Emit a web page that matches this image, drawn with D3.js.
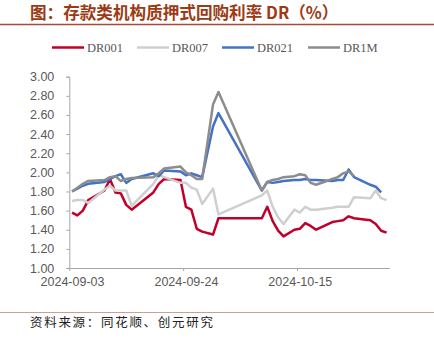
<!DOCTYPE html>
<html>
<head>
<meta charset="utf-8">
<script src="https://cdn.jsdelivr.net/npm/d3@7"></script>
<style>
  html, body { margin: 0; padding: 0; background: #ffffff; }
  svg { display: block; }
</style>
</head>
<body>
<svg id="chart" width="434" height="339"></svg>
<script>
// Trading days (interbank), including weekend make-up days
const dates = [
  "2024-09-03","2024-09-04","2024-09-05","2024-09-06","2024-09-09","2024-09-10","2024-09-11",
  "2024-09-12","2024-09-13","2024-09-14","2024-09-18","2024-09-19","2024-09-20","2024-09-23",
  "2024-09-24","2024-09-25","2024-09-26","2024-09-27","2024-09-29","2024-09-30",
  "2024-10-08","2024-10-09","2024-10-10","2024-10-11","2024-10-12","2024-10-14","2024-10-15",
  "2024-10-16","2024-10-17","2024-10-18","2024-10-21","2024-10-22","2024-10-23","2024-10-24",
  "2024-10-25","2024-10-28","2024-10-29","2024-10-30","2024-10-31"
];

const dr001 = [
  1.58,1.55,1.60,1.71,1.81,1.93,1.79,1.78,1.66,1.61,1.79,1.88,1.93,1.92,1.64,1.61,1.41,1.38,1.35,1.52,
  1.52,1.64,1.49,1.39,1.33,1.40,1.41,1.47,1.44,1.40,1.48,1.49,1.50,1.54,1.52,1.50,1.46,1.39,1.37
];
const dr007 = [
  1.70,1.71,1.71,1.68,1.82,1.86,1.81,1.81,1.81,1.65,1.88,1.97,1.95,1.89,1.89,1.84,1.82,1.67,1.83,1.56,
  1.76,1.81,1.64,1.53,1.46,1.61,1.58,1.64,1.61,1.61,1.63,1.64,1.64,1.64,1.74,1.73,1.81,1.73,1.71
];
const dr021 = [
  1.80,1.83,1.86,1.88,1.90,1.93,1.96,1.98,1.89,1.93,1.99,1.96,2.02,2.01,1.97,1.99,1.97,1.95,2.48,2.62,
  1.81,1.90,1.89,1.90,1.91,1.92,1.92,1.93,1.92,1.92,1.91,1.92,1.92,2.03,1.95,1.87,1.85,1.79,null
];
const dr1m = [
  1.80,1.84,1.88,1.91,1.92,1.95,1.96,1.91,1.93,1.94,1.95,1.99,2.04,2.06,2.00,1.97,1.93,1.93,2.71,2.84,
  1.81,1.90,1.92,1.93,1.95,1.96,1.98,1.97,1.89,1.87,1.93,1.95,1.99,2.01,1.96,null,null,null,null
];

const seriesNames = ["DR001", "DR007", "DR021", "DR1M"];
const seriesColors = ["#C0002B", "#CFCFCF", "#4472C4", "#8C8C8C"];
const seriesValues = [dr001, dr007, dr021, dr1m];

const yTicks = [1.0, 1.2, 1.4, 1.6, 1.8, 2.0, 2.2, 2.4, 2.6, 2.8, 3.0];
const xTickLabels = ["2024-09-03", "2024-09-24", "2024-10-15"];

const titleText = "图：存款类机构质押式回购利率 DR（%）";
const sourceText = "资料来源：同花顺、创元研究";

const parse = d3.utcParse("%Y-%m-%d");
const DAY = 864e5;

const svg = d3.select("#chart");

// Header
svg.append("text")
  .attr("x", 30).attr("y", 19)
  .attr("font-family", "'Noto Sans CJK SC', sans-serif")
  .attr("font-size", 16.6).attr("font-weight", "bold")
  .attr("fill", "#9C3A14")
  .text(titleText);
svg.append("line")
  .attr("x1", 0).attr("x2", 434).attr("y1", 24.5).attr("y2", 24.5)
  .attr("stroke", "#A84A3A").attr("stroke-width", 1.3);

// Scales: date axis, each day a slot, points centred in their slot
const x = d3.scaleUtc()
  .domain([parse("2024-09-03"), parse("2024-11-01")])
  .range([69.3, 389.3]);
const y = d3.scaleLinear().domain([1, 3]).range([268, 76.7]);
const halfDay = x(new Date(parse("2024-09-03").getTime() + DAY / 2)) - x(parse("2024-09-03"));

// Y axis
const yAxis = svg.append("g")
  .attr("transform", "translate(69.3,0)")
  .call(d3.axisLeft(y).tickValues(yTicks).tickFormat(d3.format(".2f")).tickSize(3).tickPadding(12));
yAxis.select(".domain").attr("stroke", "#A6A6A6");
yAxis.selectAll(".tick line").attr("stroke", "#A6A6A6");
yAxis.selectAll("text")
  .attr("font-family", "'Liberation Sans', Arial, sans-serif")
  .attr("font-size", 12.5).attr("fill", "#595959");

// X axis
const xAxis = svg.append("g")
  .attr("transform", "translate(0,268)")
  .call(d3.axisBottom(x)
    .tickValues(xTickLabels.map(parse))
    .tickFormat(d3.utcFormat("%Y-%m-%d"))
    .tickSize(3).tickSizeOuter(0).tickPadding(6));
xAxis.select(".domain").attr("stroke", "#A6A6A6");
xAxis.selectAll(".tick line").attr("stroke", "#A6A6A6");
xAxis.selectAll("text")
  .attr("dx", halfDay)
  .attr("font-family", "'Liberation Sans', Arial, sans-serif")
  .attr("font-size", 12.5).attr("fill", "#595959");

// Series lines
const pts = dates.map(d => new Date(parse(d).getTime() + DAY / 2));
seriesValues.forEach((vals, i) => {
  const line = d3.line()
    .defined(j => vals[j] !== null)
    .x(j => x(pts[j]))
    .y(j => y(vals[j]));
  svg.append("path")
    .attr("d", line(d3.range(vals.length)))
    .attr("fill", "none")
    .attr("stroke", seriesColors[i])
    .attr("stroke-width", 2.5)
    .attr("stroke-linejoin", "round");
});

// Legend
const legendX = [52, 137, 222, 308];
const legend = svg.append("g").attr("transform", "translate(0,47.5)");
seriesNames.forEach((name, i) => {
  legend.append("line")
    .attr("x1", legendX[i]).attr("x2", legendX[i] + 32)
    .attr("y1", 0).attr("y2", 0)
    .attr("stroke", seriesColors[i]).attr("stroke-width", 2.5);
  legend.append("text")
    .attr("x", legendX[i] + 35).attr("y", 4.5)
    .attr("font-family", "'Liberation Serif', 'Times New Roman', serif")
    .attr("font-size", 12.5).attr("fill", "#595959")
    .text(name);
});

// Footer
svg.append("line")
  .attr("x1", 0).attr("x2", 434).attr("y1", 312.5).attr("y2", 312.5)
  .attr("stroke", "#C9A097").attr("stroke-width", 1);
svg.append("text")
  .attr("x", 30).attr("y", 327)
  .attr("font-family", "'Noto Sans CJK SC', sans-serif")
  .attr("font-size", 12.5).attr("letter-spacing", 1.7)
  .attr("fill", "#222222")
  .text(sourceText);
</script>
</body>
</html>
